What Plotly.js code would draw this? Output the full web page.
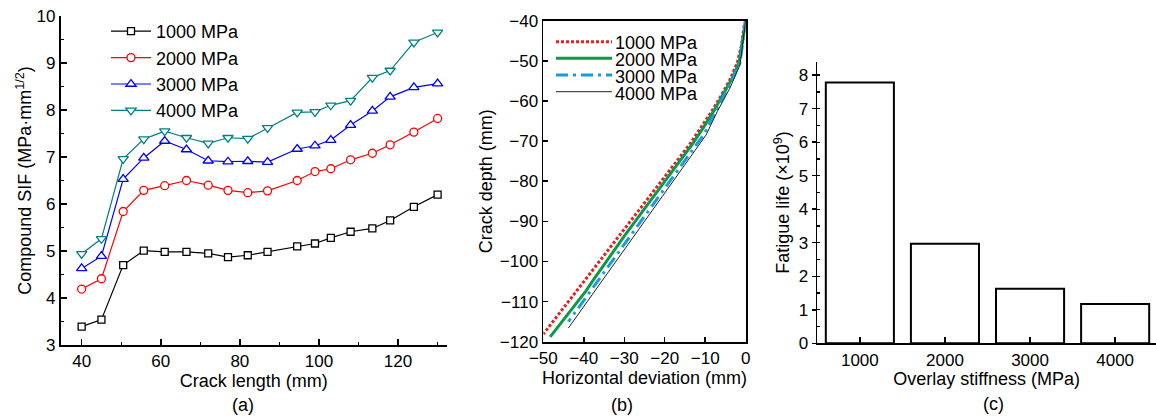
<!DOCTYPE html>
<html>
<head>
<meta charset="utf-8">
<script src="https://cdn.plot.ly/plotly-3.0.1.min.js"></script>
<style>html,body{margin:0;padding:0;background:#fff;}#chart{width:1156px;height:419px;}</style>
</head>
<body>
<div id="chart"></div>
<script>
// ---- Panel (a): compound SIF vs crack length ----
const crackLength = [40, 45, 50.5, 55.7, 61, 66.5, 72, 77, 82, 87, 94.5, 99, 103, 108, 113.5, 118, 124, 130];
const sif1000 = [3.39, 3.54, 4.70, 5.01, 4.98, 4.98, 4.95, 4.87, 4.91, 4.98, 5.10, 5.16, 5.28, 5.41, 5.48, 5.65, 5.94, 6.20];
const sif2000 = [4.19, 4.41, 5.84, 6.29, 6.39, 6.50, 6.40, 6.29, 6.24, 6.28, 6.50, 6.69, 6.75, 6.94, 7.08, 7.26, 7.53, 7.82];
const sif3000 = [4.63, 4.89, 6.53, 6.98, 7.34, 7.16, 6.92, 6.90, 6.91, 6.89, 7.17, 7.24, 7.36, 7.68, 7.98, 8.28, 8.48, 8.56];
const sif4000 = [4.94, 5.26, 6.96, 7.38, 7.55, 7.41, 7.29, 7.41, 7.39, 7.62, 7.95, 7.96, 8.10, 8.20, 8.69, 8.84, 9.44, 9.65];
const seriesNames = ["1000 MPa", "2000 MPa", "3000 MPa", "4000 MPa"];

// ---- Panel (b): crack path (horizontal deviation vs depth) ----
const dev1000 = [0, -0.35, -1.0, -2.1, -3.9, -5.9, -8.4, -11.2, -13.9, -22.0, -31.0, -40.5, -50.0];
const depth1000 = [-40, -41, -46, -50.5, -54.7, -58.4, -62.6, -66.9, -70.9, -81.5, -93.2, -105.6, -118.1];
const dev2000 = [0, -0.2, -1.2, -1.6, -3.1, -5.5, -7.6, -10.3, -13.0, -22.0, -30.0, -37.5, -39.5, -48.3];
const depth2000 = [-40, -41.4, -48.5, -50.1, -53.9, -58.4, -62.0, -66.4, -70.5, -82.8, -93.7, -104.4, -107.4, -118.8];
const dev3000 = [0, -0.3, -1.4, -3.7, -6.6, -10.3, -18.0, -27.0, -36.0, -43.8];
const depth3000 = [-40, -42.5, -50.5, -55.5, -61.2, -68.3, -79.0, -91.5, -104.1, -115.0];
const dev4000 = [0, -0.4, -1.4, -3.9, -7.0, -9.8, -18.0, -27.0, -36.0, -43.8];
const depth4000 = [-40, -43, -51.0, -56.8, -62.6, -68.5, -80.1, -92.8, -105.5, -116.6];

// ---- Panel (c): fatigue life vs overlay stiffness ----
const stiffness = ["1000", "2000", "3000", "4000"];
const fatigueLife = [7.78, 2.97, 1.63, 1.17];

const FONT = "Liberation Sans, Arial, sans-serif";
const W = 1156, H = 419;
const px = v => v / W;
const py = v => (H - v) / H;

const colorsA = ["#000000", "#ff0000", "#0000ff", "#008080"];
const symbolsA = ["square", "circle", "triangle-up", "triangle-down"];
const sizesA = [7, 8, 9, 9];
const seriesA = [sif1000, sif2000, sif3000, sif4000];

const traces = [];
seriesA.forEach((ys, i) => {
  traces.push({
    type: "scatter", mode: "lines+markers", x: crackLength, y: ys, name: seriesNames[i],
    xaxis: "x", yaxis: "y", legend: "legend",
    line: {color: colorsA[i], width: 1.2},
    marker: {symbol: symbolsA[i], size: sizesA[i], color: "#ffffff", line: {color: colorsA[i], width: 1.3}}
  });
});

const bStyles = [
  {x: dev1000, y: depth1000, color: "#e02424", width: 3, dash: "3px,2px"},
  {x: dev2000, y: depth2000, color: "#0b9a45", width: 3, dash: "solid"},
  {x: dev3000, y: depth3000, color: "#1a9be0", width: 3, dash: "12px,5px,3px,5px"},
  {x: dev4000, y: depth4000, color: "#222222", width: 1, dash: "solid"}
];
bStyles.forEach((s, i) => {
  traces.push({
    type: "scatter", mode: "lines", x: s.x, y: s.y, name: seriesNames[i],
    xaxis: "x2", yaxis: "y2", showlegend: false,
    line: {color: s.color, width: s.width, dash: s.dash}
  });
});

traces.push({
  type: "bar", x: stiffness, y: fatigueLife, xaxis: "x3", yaxis: "y3", showlegend: false,
  width: 0.8, marker: {color: "#ffffff", line: {color: "#000000", width: 2}}
});

const tickFont = {family: FONT, size: 17, color: "#000"};
const titleFont = {family: FONT, size: 18, color: "#000"};
const baseAxis = {
  showgrid: false, zeroline: false, showline: true, linecolor: "#000", linewidth: 1.8,
  ticks: "inside", tickcolor: "#000", tickwidth: 1.5, ticklen: 6, tickfont: tickFont,
  automargin: false, layer: "above traces"
};

// Legend of panel (b): compact key drawn in paper space
const legBRows = [41.7, 58.3, 75, 91.7];
const legBShapes = bStyles.map((s, i) => ({
  type: "line", xref: "paper", yref: "paper",
  x0: px(556), x1: px(612), y0: py(legBRows[i]), y1: py(legBRows[i]),
  line: {color: s.color, width: s.width, dash: s.dash}
}));
const legBText = seriesNames.map((n, i) => ({
  text: n, xref: "paper", yref: "paper", x: px(613), y: py(legBRows[i] + 1.8),
  xanchor: "left", yanchor: "middle", showarrow: false,
  font: {family: FONT, size: 18, color: "#000"}
}));

const layout = {
  width: W, height: H,
  margin: {l: 0, r: 0, t: 0, b: 0},
  paper_bgcolor: "#fff", plot_bgcolor: "#fff",
  font: {family: FONT, size: 17, color: "#000"},
  xaxis: Object.assign({}, baseAxis, {
    domain: [px(60.7), px(446.7)], range: [34.7, 132.3], tick0: 0, dtick: 20,
    minor: {dtick: 10, ticks: "inside", ticklen: 3, tickwidth: 1.3, tickcolor: "#000"},
    anchor: "y", title: {text: "Crack length (mm)", font: titleFont, standoff: 4}
  }),
  yaxis: Object.assign({}, baseAxis, {
    domain: [py(345), py(16)], range: [3, 10], dtick: 1,
    minor: {dtick: 0.5, ticks: "inside", ticklen: 3, tickwidth: 1.3, tickcolor: "#000"},
    anchor: "x", title: {text: "Compound SIF (MPa·mm<sup>1/2</sup>)", font: titleFont, standoff: 0}
  }),
  xaxis2: Object.assign({}, baseAxis, {
    domain: [px(543.3), px(745.7)], range: [-50, 0], dtick: 10, mirror: true, ticklen: 5,
    anchor: "y2", title: {text: "Horizontal deviation (mm)", font: titleFont, standoff: 4}
  }),
  yaxis2: Object.assign({}, baseAxis, {
    domain: [py(341.7), py(20.7)], range: [-120, -40], dtick: 10, mirror: true, ticklen: 5,
    anchor: "x2", title: {text: "Crack depth (mm)", font: titleFont, standoff: 2}
  }),
  xaxis3: Object.assign({}, baseAxis, {
    domain: [px(817.3), 1], range: [-0.5, 3.48], type: "category", ticklen: 6, tickwidth: 1.8,
    anchor: "y3", title: {text: "Overlay stiffness (MPa)", font: titleFont, standoff: 2}
  }),
  yaxis3: Object.assign({}, baseAxis, {
    domain: [py(343.3), py(61.7)], range: [0, 8.4], dtick: 1, ticks: "outside", ticklen: 4,
    minor: {dtick: 0.5, ticks: "inside", ticklen: 3, tickwidth: 1.3, tickcolor: "#000"},
    anchor: "x3", title: {text: "Fatigue life (×10<sup>9</sup>)", font: titleFont, standoff: 4}
  }),
  legend: {
    x: px(106), y: py(13), xanchor: "left", yanchor: "top",
    bgcolor: "rgba(0,0,0,0)", font: {family: FONT, size: 18, color: "#000"},
    itemwidth: 40, tracegroupgap: 0
  },
  shapes: legBShapes,
  annotations: [
    {text: "(a)", x: px(243), y: py(405), xref: "paper", yref: "paper", showarrow: false, font: titleFont, xanchor: "center", yanchor: "middle"},
    {text: "(b)", x: px(622), y: py(405), xref: "paper", yref: "paper", showarrow: false, font: titleFont, xanchor: "center", yanchor: "middle"},
    {text: "(c)", x: px(993), y: py(404), xref: "paper", yref: "paper", showarrow: false, font: titleFont, xanchor: "center", yanchor: "middle"}
  ].concat(legBText)
};

Plotly.newPlot("chart", traces, layout, {displayModeBar: false, staticPlot: true});
</script>
</body>
</html>
